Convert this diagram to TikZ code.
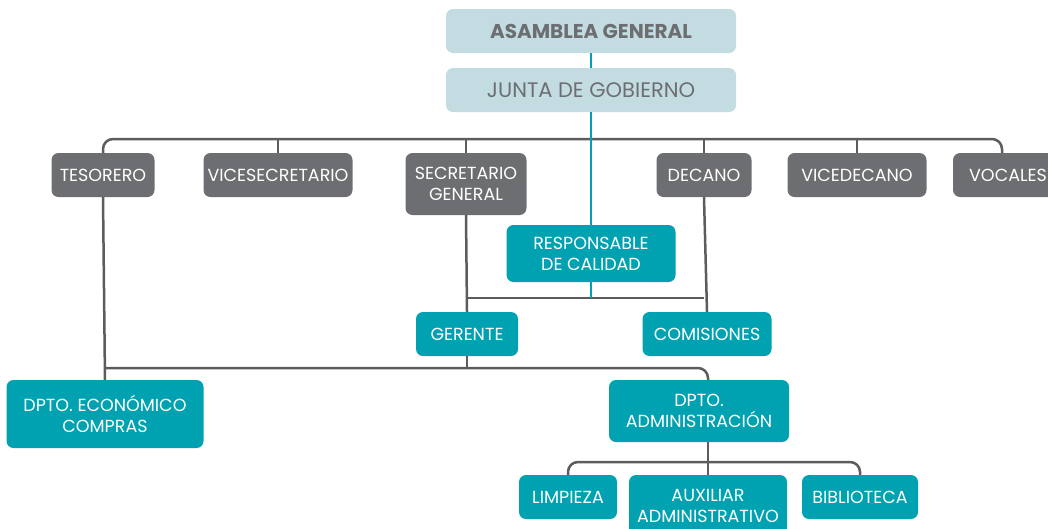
\documentclass[tikz,border=0pt]{standalone}
\usepackage{fontspec}
\setmainfont{Poppins}
\definecolor{boxgray}{HTML}{6D6E71}
\definecolor{teal}{HTML}{00A2B1}
\definecolor{lightbox}{HTML}{C2DCE2}
\definecolor{linegray}{HTML}{5B5C5E}
\definecolor{txtgray}{HTML}{6D6E71}
\tikzset{
  base/.style={rectangle, rounded corners=7pt, inner sep=0pt, align=center,
    text=white, font=\fontsize{17.5}{21}\selectfont},
  graybox/.style={base, fill=boxgray},
  tealbox/.style={base, fill=teal},
  topbox/.style={base, fill=lightbox, text=txtgray},
  conn/.style={draw=linegray, line width=2.5pt},
  tconn/.style={draw=teal, line width=2.5pt},
}
\begin{document}
\begin{tikzpicture}[x=1pt,y=-1pt]
\useasboundingbox (0,0) rectangle (1048,528);
% top
\node[topbox, minimum width=290, minimum height=44, font=\fontsize{20}{22}\selectfont\bfseries] (asam) at (591,31) {ASAMBLEA GENERAL};
\node[topbox, minimum width=290, minimum height=44, font=\fontsize{21}{22}\selectfont] (junta) at (591,90) {JUNTA DE GOBIERNO};
% second row
\node[graybox, minimum width=103, minimum height=44] (teso) at (103,175) {TESORERO};
\node[graybox, minimum width=149, minimum height=44] (vices) at (278,175) {VICESECRETARIO};
\node[graybox, minimum width=121, minimum height=62] (secr) at (466,184) {SECRETARIO\\GENERAL};
\node[graybox, minimum width=95, minimum height=44] (dec) at (704,175) {DECANO};
\node[graybox, minimum width=139, minimum height=44] (vdec) at (857,175) {VICEDECANO};
\node[graybox, minimum width=110, minimum height=44] (voc) at (1008,175) {VOCALES};
% middle
\node[tealbox, minimum width=169, minimum height=57] (resp) at (591,253.5) {RESPONSABLE\\DE CALIDAD};
\node[tealbox, minimum width=102, minimum height=44] (ger) at (467,334) {GERENTE};
\node[tealbox, minimum width=129, minimum height=44] (com) at (707,334) {COMISIONES};
% lower
\node[tealbox, minimum width=197, minimum height=68] (econ) at (105,414) {DPTO. ECONÓMICO\\COMPRAS};
\node[tealbox, minimum width=180, minimum height=62] (adm) at (699,411) {DPTO.\\ADMINISTRACIÓN};
\node[tealbox, minimum width=98, minimum height=44] (limp) at (568,497) {LIMPIEZA};
\node[tealbox, minimum width=158, minimum height=62] (aux) at (708,506) {AUXILIAR\\ADMINISTRATIVO};
\node[tealbox, minimum width=116, minimum height=44] (bib) at (860,497) {BIBLIOTECA};
% bus coordinates
\coordinate (bus) at (591,139);
\coordinate (mid) at (591,298);
\coordinate (low) at (400,368);
\coordinate (bot) at (708,462);
% top bus
\draw[conn, rounded corners=10pt] (teso.north) |- (bus) -| ([xshift=-6pt]voc.north);
\draw[conn] (vices.north) -- (vices.north |- bus);
\draw[conn] (secr.north) -- (secr.north |- bus);
\draw[conn] (dec.north) -- (dec.north |- bus);
\draw[conn] (vdec.north) -- (vdec.north |- bus);
% secretario / decano
\draw[conn] (secr.south) -- (ger.north);
\draw[conn] (dec.south) -- (com.north);
\draw[conn] (secr.south |- mid) -- (dec.south |- mid);
% lower bus
\draw[conn] (teso.south) -- (econ.north);
\draw[conn, rounded corners=10pt] (econ.north |- low) -| (aux.north |- adm.north);
\draw[conn] (ger.south) -- (ger.south |- low);
% bottom bus
\draw[conn] (aux.north |- adm.south) -- (aux.north);
\draw[conn, rounded corners=10pt] (limp.north) |- (bot) -| (bib.north);
% teal connectors
\draw[tconn] (asam.south) -- (junta.north);
\draw[tconn] (junta.south) -- (resp.north);
\draw[tconn] (resp.south) -- (resp.south |- mid);
\end{tikzpicture}
\end{document}
